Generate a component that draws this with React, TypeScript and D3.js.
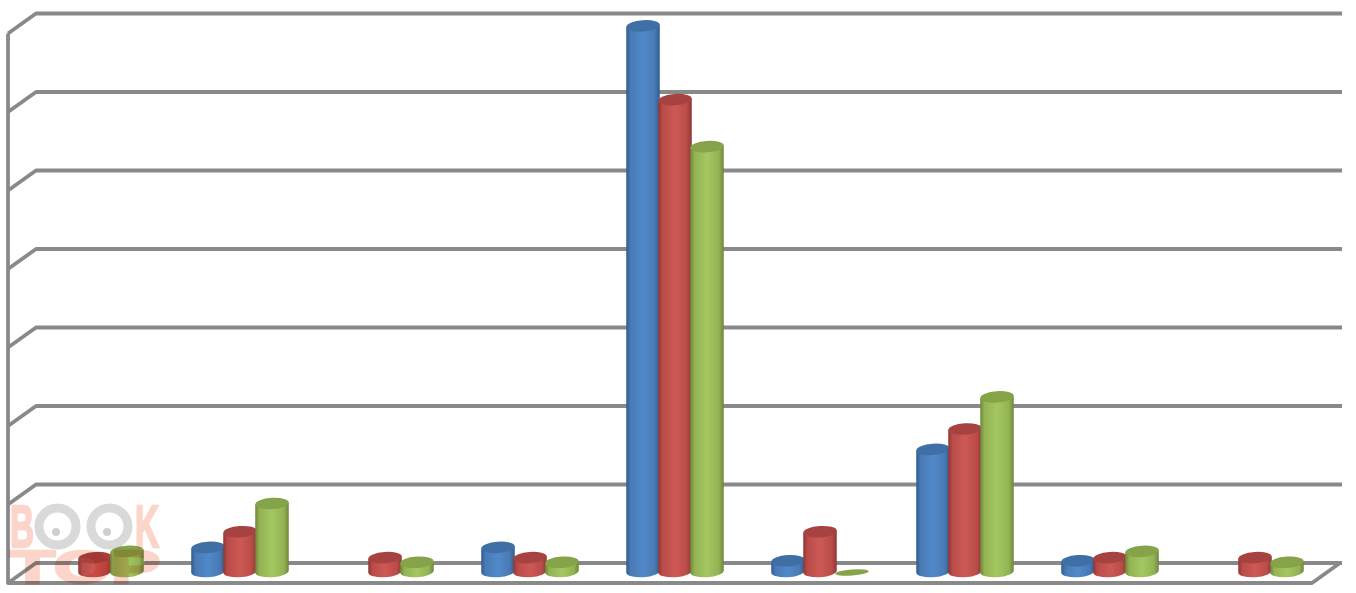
import React from "react";
import * as d3 from "d3";

const categories = ["1", "2", "3", "4", "5", "6", "7", "8", "9"];
const seriesNames = ["A", "B", "C"];
const seriesA = [null, 3.2, null, 3.2, 69.7, 1.5, 15.7, 1.5, null];
const seriesB = [1.9, 5.2, 1.9, 1.9, 60.3, 5.2, 18.3, 1.9, 1.9];
const seriesC = [2.7, 8.8, 1.3, 1.3, 54.3, 0, 22.4, 2.7, 1.3];
const seriesValues = [seriesA, seriesB, seriesC];
const gridTicks = [0, 10, 20, 30, 40, 50, 60, 70];
const colors = [
  { id: "blue", dark: "#2f5c8f", mid: "#4a7ab4", light: "#5089ca", top: "#3f6fa5" },
  { id: "red", dark: "#8f3735", mid: "#b94c49", light: "#cd5955", top: "#a64341" },
  { id: "green", dark: "#6d8739", mid: "#94b354", light: "#a3c761", top: "#85a348" },
];

const W = 1356, H = 593;
const GRID = "#898989";
const TILT = -4;

export default function App() {
  const y = d3.scaleLinear().domain([0, 70]).range([572.5, 23.5]);
  const gridY = d3.scaleLinear().domain([0, 70]).range([563, 13.5]);
  const x0 = d3.scaleBand().domain(categories).range([22, 1327]);
  const x1 = d3.scaleBand().domain(seriesNames).range([-47.5, 48.5]);
  const bw = 33.5, ry = 5.7;
  const dy = (bw / 2) * Math.sin((-TILT * Math.PI) / 180);
  return (
    <svg width={W} height={H} style={{ position: "absolute", left: 0, top: 0, background: "#fff" }}>
      <defs>
        {colors.map((c) => (
          <linearGradient key={c.id} id={c.id} x1="0" x2="1" y1="0" y2="0">
            <stop offset="0" stopColor={c.dark} />
            <stop offset="0.13" stopColor={c.mid} />
            <stop offset="0.5" stopColor={c.light} />
            <stop offset="0.85" stopColor={c.mid} />
            <stop offset="1" stopColor={c.dark} />
          </linearGradient>
        ))}
      </defs>
      <g style={{ filter: "blur(0.4px)" }}>
        <g fill="none" stroke={GRID} strokeWidth={3.8} strokeLinejoin="round">
          {gridTicks.map((t) => {
            const gy = gridY(t);
            return <path key={t} d={`M8,${gy + 20}L36,${gy}H1342`} />;
          })}
          <path d={`M8,${gridY(70) + 20}V583H1312L1340,563`} />
        </g>
        {categories.map((cat, i) => (
          <g key={cat}>
            {seriesNames.map((s, j) => {
              const v = seriesValues[j][i];
              if (v === null) return null;
              const cx = x0(cat)! + x0.bandwidth() / 2 + x1(s)! + x1.bandwidth() / 2;
              const left = cx - bw / 2, right = cx + bw / 2;
              const ty = y(v), by = y(0) - 1;
              const c = colors[j];
              if (v === 0) {
                return (
                  <ellipse key={s} cx={cx} cy={by + 1} rx={bw / 2} ry={3} fill={c.top}
                    transform={`rotate(${TILT} ${cx} ${by + 1})`} />
                );
              }
              return (
                <g key={s}>
                  <path
                    d={`M${left},${ty + dy}V${by + dy}A${bw / 2},${ry} ${TILT} 0 0 ${right},${by - dy}V${ty - dy}Z`}
                    fill={`url(#${c.id})`}
                  />
                  <ellipse cx={cx} cy={ty} rx={bw / 2} ry={ry} fill={c.top}
                    transform={`rotate(${TILT} ${cx} ${ty})`} />
                </g>
              );
            })}
          </g>
        ))}
        <g style={{ mixBlendMode: "multiply" }}>
          <g fontFamily="Liberation Sans" fontWeight={700} fill="#fcd5ca" stroke="#fcd5ca" strokeWidth={2.5}>
            <text x={10} y={547} fontSize={60} textLength={24} lengthAdjust="spacingAndGlyphs">B</text>
            <text x={135} y={547} fontSize={60} textLength={24} lengthAdjust="spacingAndGlyphs">K</text>
            <text x={10} y={583} fontSize={46} textLength={150} lengthAdjust="spacingAndGlyphs">TOP</text>
          </g>
          <g fill="none" stroke="#d9d9d9" strokeWidth={9}>
            <circle cx={57.5} cy={526.5} r={18.5} />
            <circle cx={109.5} cy={526.5} r={18.5} />
          </g>
          <circle cx={56} cy={532} r={4} fill="#cfcfcf" />
          <circle cx={107} cy={532} r={4} fill="#cfcfcf" />
        </g>
      </g>
    </svg>
  );
}
